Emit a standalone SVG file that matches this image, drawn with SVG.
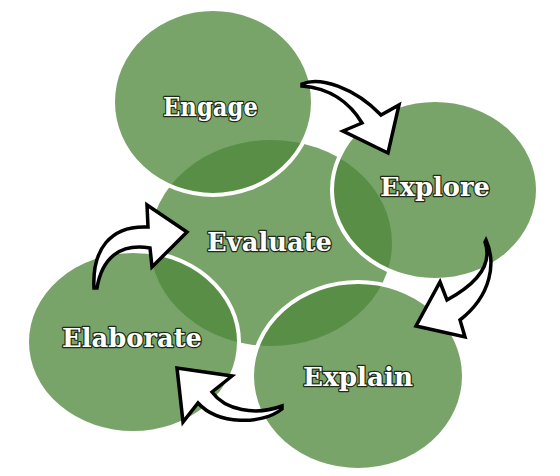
<svg xmlns="http://www.w3.org/2000/svg" width="560" height="476" viewBox="0 0 560 476">
<style>
.c{fill:#4d873a;fill-opacity:0.76}
.o{stroke:#ffffff;stroke-width:4}
.t{font-family:"DejaVu Serif","Liberation Serif",serif;font-weight:bold;font-size:25.5px;fill:#ffffff;stroke:#1e2a18;stroke-width:2.4;paint-order:stroke;stroke-linejoin:round;text-anchor:middle}
.a{fill:#ffffff;stroke:#000000;stroke-width:3.5;stroke-linejoin:miter}
</style>
<rect width="560" height="476" fill="#ffffff"/>
<g id="evaluate">
<ellipse class="c" cx="271" cy="243" rx="121" ry="103"/>
</g>
<g id="engage">
<ellipse class="c o" cx="213" cy="102" rx="100" ry="93"/>
</g>
<g id="explore">
<ellipse class="c o" cx="435" cy="190" rx="103" ry="90"/>
</g>
<g id="explain">
<ellipse class="c o" cx="358" cy="376" rx="106" ry="94"/>
</g>
<g id="elaborate">
<ellipse class="c o" cx="133" cy="342" rx="106" ry="91"/>
</g>
<g id="labels">
<text class="t" x="210.5" y="116" textLength="95" lengthAdjust="spacingAndGlyphs">Engage</text>
<text class="t" x="435" y="196" textLength="110" lengthAdjust="spacingAndGlyphs">Explore</text>
<text class="t" x="269.5" y="251" textLength="125" lengthAdjust="spacingAndGlyphs">Evaluate</text>
<text class="t" x="358" y="386" textLength="110" lengthAdjust="spacingAndGlyphs">Explain</text>
<text class="t" x="132" y="347" textLength="140" lengthAdjust="spacingAndGlyphs">Elaborate</text>
</g>
<g id="connectors">
<path class="a" d="M302,84 C320,76 355,88 381,115 L399,105 L388,153 L343,131 L362,123 C350,103 330,88 302,86 Z"/>
<path class="a" d="M486,240 C496,262 492,295 460,320 L465,337 L416,326 L440,282 L447,300 C480,282 492,262 485,242 Z"/>
<path class="a" d="M282,406 C255,416 225,410 212,392 L232,376 L177,368 L183,422 L198,403 C218,425 262,425 282,409 Z"/>
<path class="a" d="M94,288 C92,250 110,225 148,227 L147,205 L187,232 L152,267 L150,248 C120,243 102,258 97,288 Z"/>
</g>
</svg>
